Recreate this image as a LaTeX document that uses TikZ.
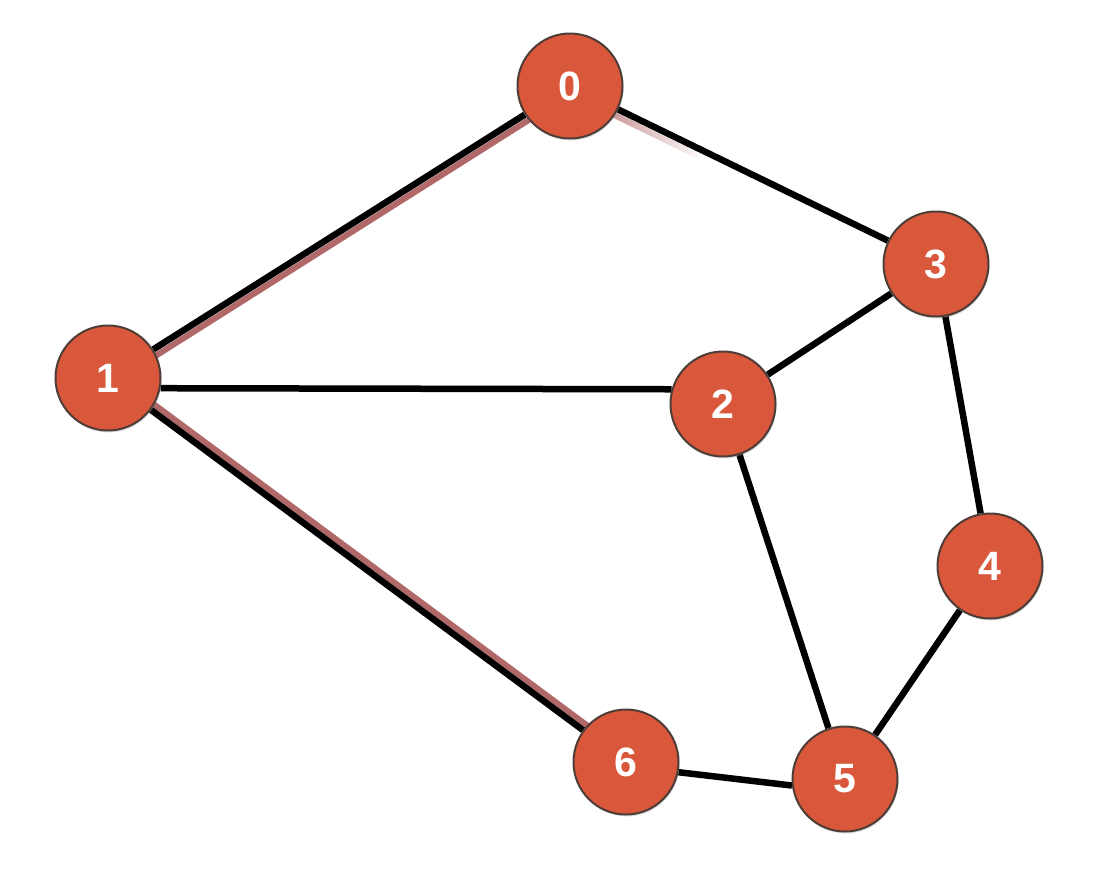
\documentclass[tikz,border=0pt]{standalone}
\usepackage{fontspec}
\setmainfont{Liberation Sans}
\usetikzlibrary{fadings,shadows,calc,backgrounds}
\definecolor{nodefill}{HTML}{D9573A}
\definecolor{nodeborder}{HTML}{4E3C37}
\definecolor{edgepink}{HTML}{B06868}
\begin{document}
\begin{tikzpicture}[x=1pt,y=-1pt,
  vert/.style={circle,minimum size=105pt,inner sep=0pt,fill=nodefill,draw=nodeborder,line width=2pt,
    text=white,font=\fontsize{41}{41}\selectfont\bfseries,
    drop shadow={shadow xshift=1pt,shadow yshift=-2pt,opacity=0.25}},
  edge/.style={line width=6.5pt,black},
  hl/.style={line width=6pt,edgepink}]
\useasboundingbox (0,0) rectangle (1118,876);
\node[vert] (n0) at (570,86) {0};
\node[vert] (n1) at (108,378) {1};
\node[vert] (n2) at (723,404) {2};
\node[vert] (n3) at (936,264) {3};
\node[vert] (n4) at (990,566) {4};
\node[vert] (n5) at (845,779) {5};
\node[vert] (n6) at (626,762) {6};
\begin{scope}[on background layer]
% highlighted shadows
\draw[hl] ([shift={(3,6)}]n0.center) -- ([shift={(3,6)}]n1.center);
\draw[hl] ([shift={(5,-4)}]n1.center) -- ([shift={(5,-4)}]n6.center);
\draw[hl,path fading=east] ([shift={(-1,7)}]n0.center) -- ($([shift={(-1,7)}]n0.center)!0.36!([shift={(-1,7)}]n3.center)$);
% edges
\draw[edge] (n0) -- (n1);
\draw[edge] (n0) -- (n3);
\draw[edge] (n1.-11) -- (n2.164);
\draw[edge] (n1) -- (n6);
\draw[edge] (n2) -- (n3);
\draw[edge] (n2) -- (n5);
\draw[edge] (n3) -- (n4);
\draw[edge] (n4) -- (n5);
\draw[edge] (n6.-11) -- (n5.187);
\end{scope}
\end{tikzpicture}
\end{document}
